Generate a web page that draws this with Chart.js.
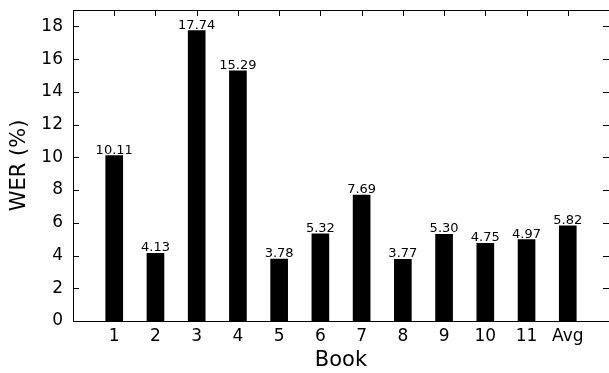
<!DOCTYPE html>
<html>
<head>
<meta charset="utf-8">
<script src="https://cdn.jsdelivr.net/npm/chart.js@4/dist/chart.umd.min.js"></script>
<style>
  html, body { margin: 0; padding: 0; background: #fff; }
  #wrap { width: 609px; height: 373px; }
</style>
</head>
<body>
<div id="wrap"><canvas id="c" width="609" height="373"></canvas></div>
<script>
// ── Data ────────────────────────────────────────────────────────────────────
var BOOKS  = ['1', '2', '3', '4', '5', '6', '7', '8', '9', '10', '11', 'Avg'];
var WER    = [10.11, 4.13, 17.74, 15.29, 3.78, 5.32, 7.69, 3.77, 5.30, 4.75, 4.97, 5.82];
var YTICKS = [0, 2, 4, 6, 8, 10, 12, 14, 16, 18];
var Y_MAX  = 19;

var FONT = 'DejaVu Sans';
var TICK_LEN = 6;

// Frame + inward ticks on all four sides (matplotlib style)
var framePlugin = {
    id: 'frame',
    afterDraw: function (chart) {
        var ctx = chart.ctx, a = chart.chartArea;
        var xs = chart.scales.x, ys = chart.scales.y;
        ctx.save();
        ctx.strokeStyle = '#000';
        ctx.lineWidth = 1;
        ctx.strokeRect(Math.round(a.left) + 0.5, Math.round(a.top) + 0.5,
                       Math.round(a.right - a.left), Math.round(a.bottom - a.top));
        ctx.beginPath();
        xs.ticks.forEach(function (t) {
            var px = Math.round(xs.getPixelForValue(t.value)) + 0.5;
            ctx.moveTo(px, a.top); ctx.lineTo(px, a.top + TICK_LEN);
            ctx.moveTo(px, a.bottom); ctx.lineTo(px, a.bottom - TICK_LEN);
        });
        ys.ticks.forEach(function (t) {
            var py = Math.round(ys.getPixelForValue(t.value)) + 0.5;
            ctx.moveTo(a.left, py); ctx.lineTo(a.left + TICK_LEN, py);
            ctx.moveTo(a.right, py); ctx.lineTo(a.right - TICK_LEN, py);
        });
        ctx.stroke();
        ctx.restore();
    }
};

// Value labels above each bar
var valuePlugin = {
    id: 'values',
    afterDatasetsDraw: function (chart) {
        var ctx = chart.ctx;
        var meta = chart.getDatasetMeta(0);
        ctx.save();
        ctx.fillStyle = '#000';
        ctx.font = '13px "' + FONT + '"';
        ctx.textAlign = 'center';
        ctx.textBaseline = 'alphabetic';
        meta.data.forEach(function (bar, i) {
            ctx.fillText(WER[i].toFixed(2), bar.x, bar.y - 2);
        });
        ctx.restore();
    }
};

new Chart(document.getElementById('c').getContext('2d'), {
    type: 'bar',
    data: {
        datasets: [{
            data: BOOKS.map(function (b, i) { return { x: i + 1, y: WER[i] }; }),
            backgroundColor: '#000',
            borderWidth: 0,
            barThickness: 17,
        }],
    },
    options: {
        responsive: false,
        animation: false,
        layout: { padding: { top: 10, right: 0, left: 0, bottom: 0 } },
        plugins: {
            legend: { display: false },
            tooltip: { enabled: false },
        },
        scales: {
            x: {
                type: 'linear',
                min: 0, max: BOOKS.length + 1,
                offset: false,
                grid: { display: false, drawTicks: false },
                border: { display: false },
                afterBuildTicks: function (s) {
                    s.ticks = BOOKS.map(function (b, i) { return { value: i + 1 }; });
                },
                afterFit: function (s) {
                    s.height = 52;
                    s.paddingLeft = 0; s.paddingRight = 0;
                },
                ticks: {
                    autoSkip: false,
                    maxRotation: 0,
                    padding: 5,
                    color: '#000',
                    font: { family: FONT, size: 17 },
                    callback: function (v) { return BOOKS[v - 1]; },
                },
                title: {
                    display: true, text: 'Book', color: '#000',
                    font: { family: FONT, size: 21 },
                    padding: { top: 0, bottom: 0 },
                },
            },
            y: {
                min: 0, max: Y_MAX,
                grid: { display: false, drawTicks: false },
                border: { display: false },
                afterBuildTicks: function (s) {
                    s.ticks = YTICKS.map(function (v) { return { value: v }; });
                },
                afterFit: function (s) {
                    s.width = 73;
                    s.paddingTop = 0; s.paddingBottom = 0;
                },
                ticks: {
                    padding: 10,
                    color: '#000',
                    font: { family: FONT, size: 17 },
                },
                title: {
                    display: true, text: 'WER (%)', color: '#000',
                    font: { family: FONT, size: 21 },
                    padding: { top: 7, bottom: 0 },
                },
            },
        },
    },
    plugins: [framePlugin, valuePlugin],
});
</script>
</body>
</html>
